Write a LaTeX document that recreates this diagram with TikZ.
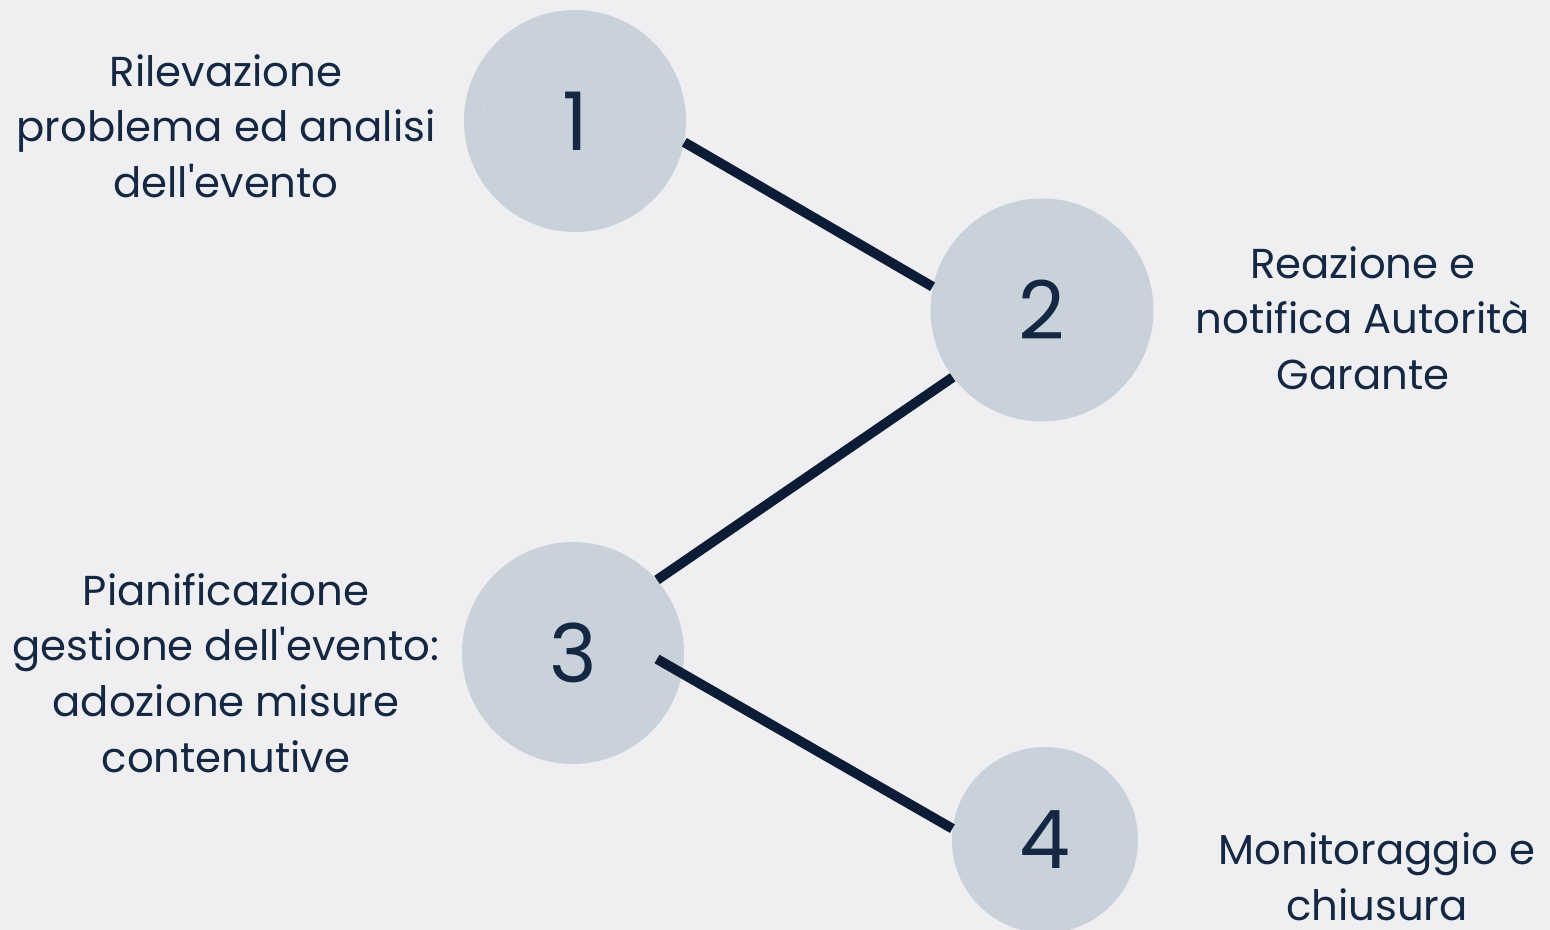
\documentclass[tikz,border=0pt]{standalone}
\usepackage{fontspec}
\setmainfont{Poppins}
\usetikzlibrary{calc}
\definecolor{bg}{HTML}{EFEFF2}
\definecolor{disc}{HTML}{C9D2DA}
\definecolor{discring}{HTML}{CFD7DE}
\definecolor{ink}{HTML}{142844}
\definecolor{wire}{HTML}{0C1C36}
\newcommand{\apo}{\XeTeXglyph\XeTeXglyphindex "quotesingle"\relax}
\tikzset{
  stepdisc/.style={circle, fill=disc, draw=none, inner sep=0pt, text=ink,
    font=\fontsize{46}{50}\selectfont},
  label/.style={align=center, text=ink, inner sep=0pt,
    font=\fontsize{23.8}{31.7}\selectfont},
  wire/.style={draw=wire, line width=5.6pt}
}
\begin{document}
\begin{tikzpicture}
\fill[bg] (0,0) rectangle (31,-18.6);
\useasboundingbox (0,0) rectangle (31,-18.6);
% discs
\node[stepdisc, minimum size=4.44cm] (c1) at (11.50,-2.42) {1};
\node[stepdisc, minimum size=4.46cm] (c2) at (20.84,-6.20) {2};
\node[stepdisc, minimum size=4.44cm] (c3) at (11.46,-13.06) {3};
\node[stepdisc, minimum size=3.72cm] (c4) at (20.90,-16.80) {4};
\foreach \c/\r in {c1/1.84, c2/1.84, c3/1.84}
  \draw[discring, line width=0.4pt] (\c.center) circle (\r);
% labels
\node[label] (t1) at (4.52,-2.52) {Rilevazione\\problema ed analisi\\dell\apo evento};
\node[label] (t2) at (27.26,-6.36) {Reazione e\\notifica Autorità\\Garante};
\node[label] (t3) at (4.52,-13.46) {Pianificazione\\gestione dell\apo evento:\\adozione misure\\contenutive};
\node[label] (t4) at (27.54,-17.54) {Monitoraggio e\\chiusura};
% connectors
\coordinate (s34) at ($(c3.center)+(1.68,-0.12)$);
\draw[wire] (c1.-11) -- (c2.168);
\draw[wire] (c2.217) -- (c3.41);
\draw[wire] (s34) -- (c4.173);
\end{tikzpicture}
\end{document}
